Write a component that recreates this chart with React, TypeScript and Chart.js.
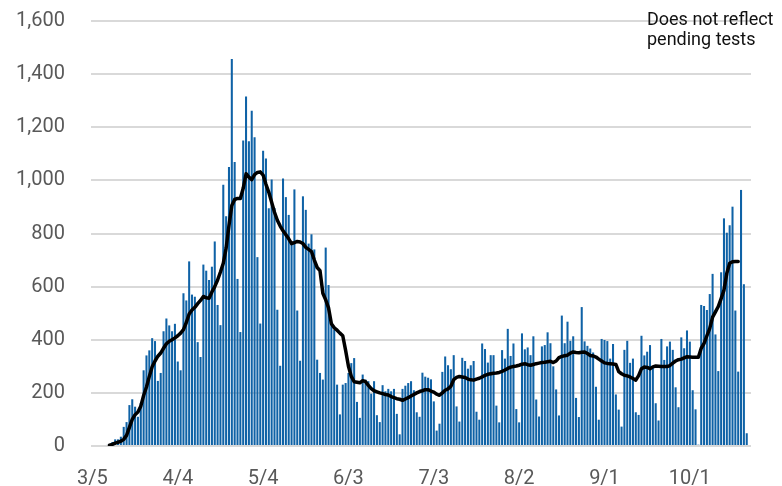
import React, { useEffect, useRef } from "react";
import { Chart, registerables } from "chart.js";

Chart.register(...registerables);

// Daily categories 3/5 .. 10/22
const START_DATE = new Date(2020, 2, 5);
const DAY_COUNT = 232;
const categories: string[] = [];
for (let i = 0; i < DAY_COUNT; i++) {
  const d = new Date(START_DATE.getFullYear(), START_DATE.getMonth(), START_DATE.getDate() + i);
  categories.push(`${d.getMonth() + 1}/${d.getDate()}`);
}

const xTickLabels = ["3/5", "4/4", "5/4", "6/3", "7/3", "8/2", "9/1", "10/1"];
const yTicks = [0, 200, 400, 600, 800, 1000, 1200, 1400, 1600];

// Daily new cases
const dailyCases: (number | null)[] = [
  0, 0, 0, 0, 0, 4, 5, 15, 25, 25,
  35, 72, 90, 154, 176, 148, 110, 162, 285, 341,
  360, 406, 395, 245, 275, 432, 480, 454, 432, 460,
  318, 285, 575, 548, 695, 570, 562, 391, 335, 683,
  660, 625, 675, 770, 531, 455, 984, 865, 1050, 1457,
  1069, 629, 429, 1150, 1316, 1147, 1262, 1162, 711, 461,
  1112, 1082, 895, 1003, 896, 513, 302, 1007, 937, 870,
  766, 966, 510, 321, 940, 889, 762, 797, 740, 325,
  275, 250, 747, 606, 462, 437, 231, 119, 231, 237,
  275, 312, 331, 166, 106, 269, 250, 244, 197, 244,
  116, 90, 229, 206, 215, 206, 215, 121, 44, 215,
  227, 237, 244, 210, 127, 110, 276, 261, 257, 251,
  168, 58, 84, 279, 337, 304, 289, 342, 149, 92,
  332, 320, 291, 304, 320, 129, 99, 386, 365, 314,
  342, 342, 152, 89, 361, 329, 441, 339, 386, 139,
  89, 424, 364, 371, 342, 413, 175, 111, 375, 380,
  428, 387, 300, 213, 115, 491, 387, 468, 396, 413,
  181, 109, 523, 394, 377, 367, 352, 223, 99, 403,
  399, 395, 329, 384, 194, 137, 73, 362, 396, 313,
  329, 127, 117, 415, 341, 355, 380, 297, 161, 96,
  403, 324, 375, 393, 362, 221, 146, 409, 368, 435,
  393, 210, 138, 5, 531, 527, 512, 572, 648, 420,
  282, 654, 857, 803, 831, 901, 510, 280, 964, 609,
  48, null,
];

// 7-day average line
const sevenDayAvg: (number | null)[] = [
  null, null, null, null, null, null, 3, 6, 11, 14,
  18, 25, 40, 70, 100, 118, 128, 150, 190, 222,
  262, 298, 320, 338, 350, 368, 385, 394, 400, 407,
  415, 425, 438, 465, 497, 512, 522, 536, 548, 563,
  558, 556, 580, 600, 625, 655, 688, 745, 830, 905,
  928, 932, 932, 970, 1025, 1012, 1003, 1022, 1030, 1032,
  1020, 985, 955, 918, 880, 850, 828, 810, 795, 780,
  762, 766, 770, 768, 762, 748, 740, 732, 700, 672,
  660, 575, 550, 520, 460, 445, 436, 425, 415, 360,
  300, 262, 242, 240, 238, 246, 242, 228, 216, 208,
  204, 200, 197, 194, 192, 186, 182, 178, 176, 172,
  177, 182, 188, 194, 200, 205, 208, 212, 212, 207,
  203, 195, 191, 200, 210, 215, 225, 250, 258, 262,
  260, 258, 252, 249, 248, 252, 255, 260, 266, 270,
  272, 274, 275, 277, 281, 286, 292, 297, 299, 301,
  304, 308, 310, 306, 304, 307, 310, 312, 314, 315,
  317, 319, 314, 320, 333, 337, 340, 342, 350, 354,
  352, 351, 353, 354, 348, 341, 339, 335, 327, 320,
  313, 311, 310, 309, 307, 280, 272, 266, 264, 260,
  254, 248, 265, 291, 297, 296, 291, 298, 301, 300,
  299, 299, 299, 303, 312, 320, 325, 327, 332, 336,
  335, 334, 334, 334, 368, 386, 415, 443, 485, 505,
  525, 555, 587, 650, 688, 694, 695, 695, null, null,
  null, null,
];

const FONT = "Roboto";

const notePlugin = {
  id: "note",
  afterDraw(chart: any) {
    const ctx = chart.ctx;
    ctx.save();
    ctx.font = `18px ${FONT}`;
    ctx.fillStyle = "#111111";
    ctx.textAlign = "left";
    ctx.textBaseline = "alphabetic";
    ctx.fillText("Does not reflect", 647, 25);
    ctx.fillText("pending tests", 647, 44.5);
    ctx.restore();
  },
};

export default function App() {
  const canvasRef = useRef<HTMLCanvasElement | null>(null);

  useEffect(() => {
    document.body.style.margin = "0";
    const canvas = canvasRef.current;
    if (!canvas) return;
    const chart = new Chart(canvas, {
      type: "bar",
      data: {
        labels: categories,
        datasets: [
          {
            type: "line",
            label: "7-day average",
            data: sevenDayAvg,
            borderColor: "#000000",
            borderWidth: 3.5,
            borderJoinStyle: "round",
            borderCapStyle: "round",
            pointRadius: 0,
            tension: 0,
            fill: false,
            order: 0,
          } as any,
          {
            type: "bar",
            label: "Daily cases",
            data: dailyCases,
            backgroundColor: "#0f62a6",
            barPercentage: 0.72,
            categoryPercentage: 1,
            order: 1,
          },
        ],
      },
      options: {
        responsive: false,
        maintainAspectRatio: false,
        animation: false,
        layout: { padding: { top: 21, right: 31, left: 0, bottom: 0 } },
        plugins: {
          legend: { display: false },
          tooltip: { enabled: false },
        },
        scales: {
          x: {
            grid: { display: false, drawTicks: false },
            border: { display: false },
            ticks: {
              autoSkip: false,
              maxRotation: 0,
              minRotation: 0,
              padding: 21,
              color: "#595959",
              font: { family: FONT, size: 20 },
              callback: (_v: any, index: number) =>
                xTickLabels.includes(categories[index]) ? categories[index] : null,
            },
            afterFit: (scale: any) => {
              scale.height = 40;
              scale.paddingLeft = 0;
              scale.paddingRight = 0;
            },
          },
          y: {
            min: 0,
            max: 1600,
            grid: { color: "#d9d9d9", lineWidth: 2, drawTicks: false },
            border: { display: false },
            afterBuildTicks: (scale: any) => {
              scale.ticks = yTicks.map((v) => ({ value: v }));
            },
            ticks: {
              padding: 26,
              color: "#595959",
              font: { family: FONT, size: 20 },
              callback: (v: any) => Number(v).toLocaleString("en-US"),
            },
            afterFit: (scale: any) => {
              scale.width = 91;
              scale.paddingTop = 0;
              scale.paddingBottom = 0;
            },
          },
        },
      },
      plugins: [notePlugin],
    });
    return () => chart.destroy();
  }, []);

  return (
    <div style={{ position: "fixed", left: 0, top: 0, width: 782, height: 486 }}>
      <canvas ref={canvasRef} width={782} height={486} />
    </div>
  );
}
